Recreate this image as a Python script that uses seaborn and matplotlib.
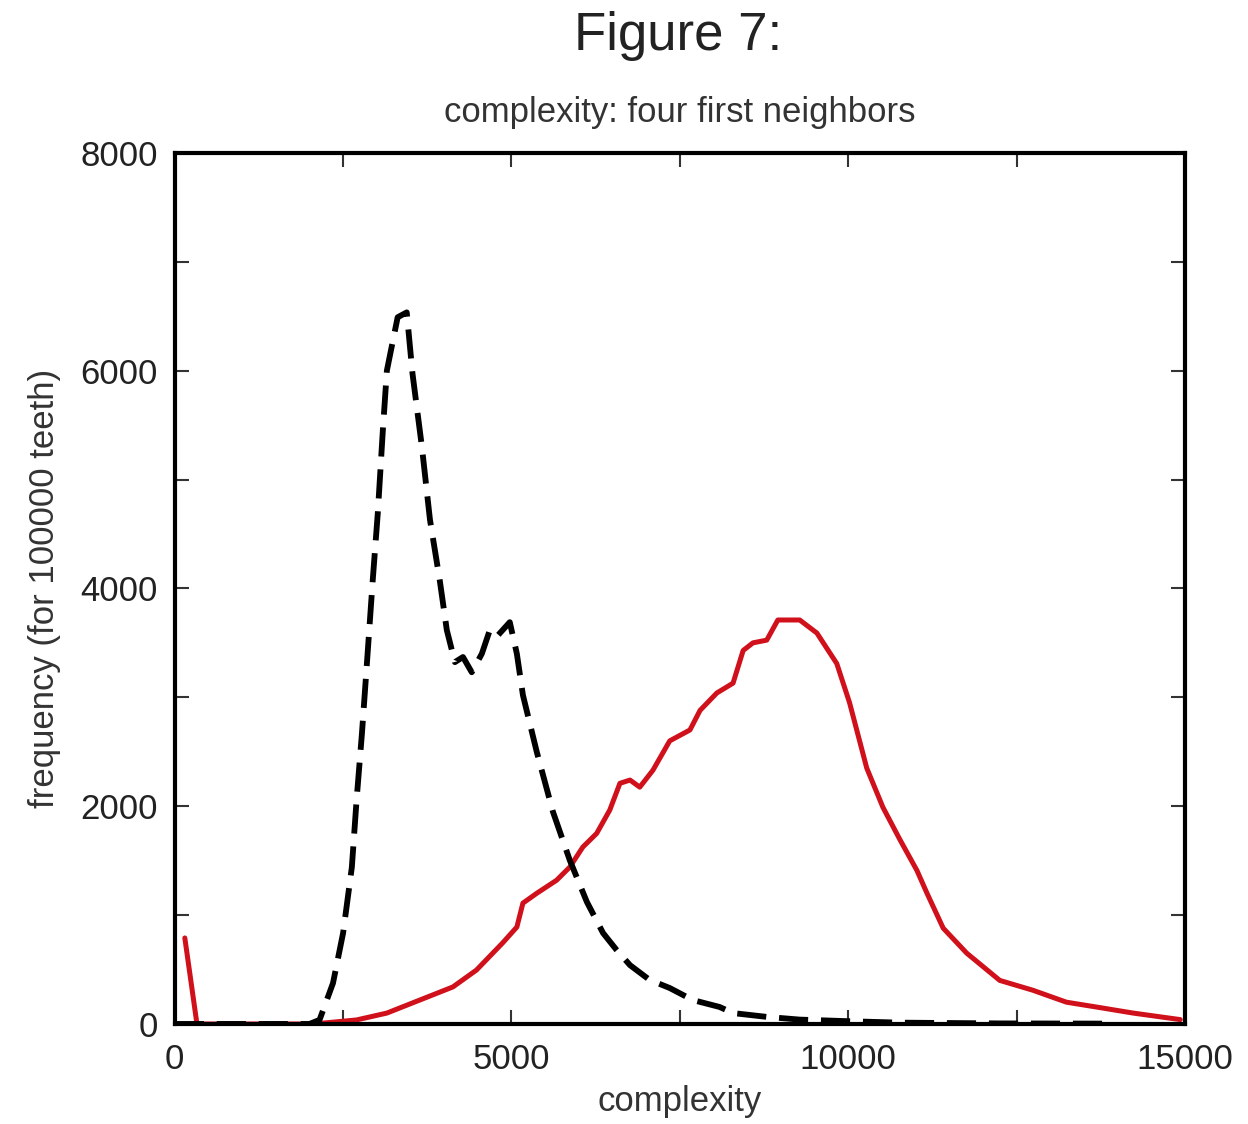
import matplotlib
matplotlib.use("Agg")
import matplotlib.pyplot as plt
import seaborn as sns
import pandas as pd

# ---- data ----
black_x = [0, 1000, 2000, 2150, 2350, 2500, 2630, 2700, 2780, 2850, 2940, 3015, 3090,
           3150, 3220, 3310, 3445, 3530, 3670, 3790, 3935, 4040, 4160, 4280, 4410, 4560,
           4680, 4800, 4975, 5080, 5170, 5375, 5615, 5865, 6120, 6360, 6560, 6760, 7050,
           7350, 7690, 8090, 8290, 8790, 9280, 10020, 10770, 12250, 13930]
black_y = [0, 0, 0, 37, 375, 835, 1440, 2055, 2670, 3280, 4075, 4690, 5450,
           6000, 6215, 6490, 6535, 5975, 5300, 4630, 4075, 3617, 3323, 3370, 3230, 3400,
           3620, 3570, 3690, 3400, 3020, 2500, 1950, 1505, 1120, 835, 680, 540, 405,
           330, 220, 156, 100, 65, 40, 25, 12, 5, 3]

red_x = [150, 330, 1000, 2000, 2150, 2700, 3150, 3640, 4130, 4480, 4870, 5080, 5170,
         5375, 5670, 5865, 6060, 6265, 6460, 6610, 6760, 6905, 7100, 7350, 7650, 7800,
         8050, 8290, 8440, 8585, 8790, 8955, 9280, 9535, 9830, 10020, 10275, 10515,
         10770, 11020, 11170, 11410, 11760, 12250, 12740, 13240, 13740, 14230, 14930]
red_y = [790, 0, 0, 0, 5, 37, 100, 220, 340, 495, 745, 890, 1110,
         1200, 1320, 1440, 1625, 1750, 1965, 2210, 2240, 2175, 2330, 2600, 2700, 2880,
         3040, 3130, 3430, 3500, 3525, 3710, 3710, 3590, 3310, 2950, 2350, 1990,
         1690, 1410, 1200, 880, 650, 400, 310, 200, 150, 100, 40]

x_ticks = [0, 5000, 10000, 15000]
y_ticks = [0, 2000, 4000, 6000, 8000]

title = "Figure 7:"
subtitle = "complexity: four first neighbors"
xlabel = "complexity"
ylabel = "frequency (for 100000 teeth)"

# ---- style ----
sns.set_style("ticks")
plt.rcParams['font.family'] = ['Liberation Sans Narrow', 'Liberation Sans', 'DejaVu Sans']

fig = plt.figure(figsize=(12.48, 11.24), dpi=100)
ax = fig.add_axes([0.140, 0.089, 0.8095, 0.775])

df_black = pd.DataFrame({"x": black_x, "y": black_y})
df_red = pd.DataFrame({"x": red_x, "y": red_y})

sns.lineplot(data=df_red, x="x", y="y", ax=ax, color="#d0101a", linewidth=3.6,
             sort=False, estimator=None)
sns.lineplot(data=df_black, x="x", y="y", ax=ax, color="black", linewidth=4.2,
             linestyle="--", sort=False, estimator=None)
ax.lines[-1].set_dashes([5, 2.2])

ax.set_xlim(0, 15000)
ax.set_ylim(0, 8000)
ax.set_xticks(x_ticks)
ax.set_yticks(y_ticks)
ax.set_xticks([2500, 7500, 12500], minor=True)
ax.set_yticks([1000, 3000, 5000, 7000], minor=True)
ax.set_xticklabels([str(v) for v in x_ticks], fontsize=25, color="#222222")
ax.set_yticklabels([str(v) for v in y_ticks], fontsize=25, color="#222222")
ax.tick_params(axis="both", which="both", direction="in", top=True, right=True,
               length=10, width=1.5, color="#333333")
ax.tick_params(axis="x", pad=14)
ax.tick_params(axis="y", pad=12)
for s in ax.spines.values():
    s.set_linewidth(3)
    s.set_color("black")
    s.set_visible(True)

ax.set_xlabel(xlabel, fontsize=25, color="#333333", labelpad=6)
ax.set_ylabel(ylabel, fontsize=25, color="#333333", labelpad=14)

fig.text(0.543, 0.968, title, ha="center", va="center", fontsize=38, color="#222222")
fig.text(0.545, 0.900, subtitle, ha="center", va="center", fontsize=25, color="#333333")

fig.savefig("out.png", dpi=100, facecolor="white")
